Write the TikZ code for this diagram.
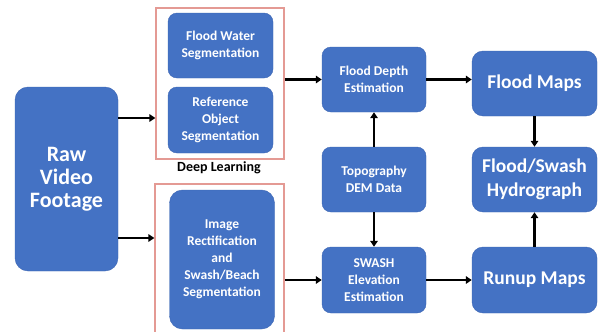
\documentclass[tikz,border=0pt]{standalone}
\usepackage{fontspec}
\setmainfont{Carlito}
\usepackage{tikz}
\usetikzlibrary{arrows.meta}
\definecolor{boxblue}{HTML}{4472C4}
\definecolor{boxline}{HTML}{3B65B3}
\definecolor{framered}{HTML}{E49A94}
\tikzset{
  stepbox/.style={rectangle,rounded corners=9pt,fill=boxblue,draw=boxline,
    text=white,align=center,font=\bfseries\fontsize{13.5}{17}\selectfont,
    minimum width=104pt,minimum height=65pt,inner sep=2pt},
  bigbox/.style={stepbox,rounded corners=11pt,minimum width=125pt,
    font=\bfseries\fontsize{19.5}{24}\selectfont},
  dlframe/.style={rectangle,draw=framered,line width=1.2pt,inner sep=0pt},
  flow/.style={->,line width=2.4pt}
}
\begin{document}
\begin{tikzpicture}[x=1pt,y=-1pt,>={Triangle[length=6pt,width=7.5pt]}]
        \useasboundingbox (0,0) rectangle (598,332);
        \clip (0,0) rectangle (598,332);
        % input
        \node[stepbox,minimum width=103pt,minimum height=184pt,rounded corners=13pt,
              font=\bfseries\fontsize{22}{23}\selectfont]
              (raw) at (66.5,179) {Raw\\Video\\Footage};
        % deep learning frame
        \node[dlframe,minimum width=128pt,minimum height=151pt] (dl) at (220,83.5) {};
        \node[stepbox,minimum width=105pt] (fw) at (220.5,45.5) {Flood Water\\Segmentation};
        \node[stepbox,minimum width=105pt,minimum height=66pt] (ro) at (220.5,120)
              {Reference\\Object\\Segmentation};
        \node[font=\bfseries\fontsize{14}{15}\selectfont] (dlab) at (219,168) {Deep Learning};
        % rectification frame
        \node[dlframe,minimum width=129pt,minimum height=156pt] (ai) at (219.5,262) {};
        \node[stepbox,minimum width=105pt,minimum height=139pt,rounded corners=13pt]
              (ir) at (222,259.5) {Image\\Rectification\\and\\Swash/Beach\\Segmentation};
        % middle column
        \node[stepbox] (fd) at (374,79.5) {Flood Depth\\Estimation};
        \node[stepbox] (topo) at (374,179.5) {Topography\\DEM Data};
        \node[stepbox,minimum height=66pt] (sw) at (374,280) {SWASH\\Elevation\\Estimation};
        % outputs
        \node[bigbox] (fm) at (534.5,83.5) {Flood Maps};
        \node[bigbox] (hy) at (534.5,179.5) {Flood/Swash\\Hydrograph};
        \node[bigbox,minimum height=66pt] (ru) at (534.5,280) {Runup Maps};
        % connectors
        \coordinate (up) at (0,118);
        \coordinate (lo) at (0,238);
        \draw[flow] (raw.east |- up) -- (dl.west |- up);
        \draw[flow] (raw.east |- lo) -- (ai.west |- lo);
        \draw[flow] (dl.east |- fd) -- (fd.west);
        \draw[flow] (ai.east |- sw) -- (sw.west);
        \draw[flow] (fd.east) -- (fd.east -| fm.west);
        \draw[flow] (sw.east) -- (sw.east -| ru.west);
        \draw[flow] (topo.north) -- (fd.south);
        \draw[flow] (topo.south) -- (sw.north);
        \draw[flow] (fm.south) -- (hy.north);
        \draw[flow] (ru.north) -- (hy.south);
\end{tikzpicture}
\end{document}
